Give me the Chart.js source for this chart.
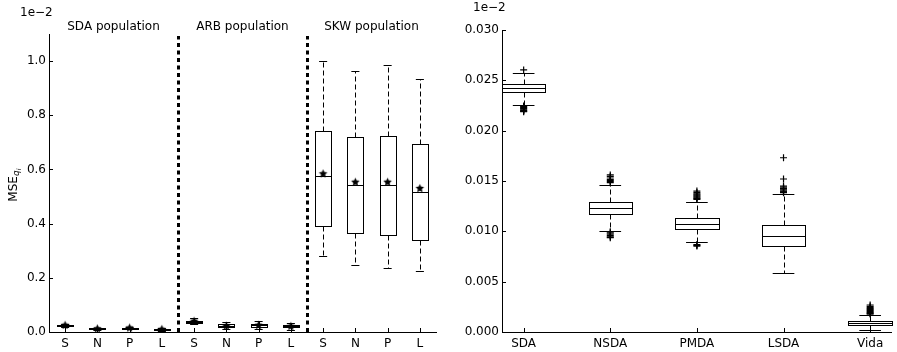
<!DOCTYPE html>
<html>
<head>
<meta charset="utf-8">
<script src="https://cdn.jsdelivr.net/npm/chart.js@4.4.0/dist/chart.umd.min.js"></script>
<style>
  html, body { margin: 0; padding: 0; background: #fff; }
  #wrap { position: relative; width: 897px; height: 352px; }
  #leftChart { position: absolute; left: 0; top: 0; }
  #rightChart { position: absolute; left: 448px; top: 0; }
</style>
</head>
<body>
<div id="wrap">
  <canvas id="leftChart" width="448" height="352"></canvas>
  <canvas id="rightChart" width="449" height="352"></canvas>
</div>
<script>
// left panel, values in units of 1e-2
const leftLabels = ['S', 'N', 'P', 'L', 'S', 'N', 'P', 'L', 'S', 'N', 'P', 'L'];
const populations = ['SDA population', 'ARB population', 'SKW population'];
const leftWhiskerLow = [0.018, 0.008, 0.010, 0.005, 0.028, 0.010, 0.010, 0.008, 0.279, 0.247, 0.236, 0.226];
const leftQ1 = [0.021, 0.010, 0.012, 0.008, 0.033, 0.018, 0.020, 0.017, 0.390, 0.366, 0.359, 0.340];
const leftMedian = [0.024, 0.012, 0.014, 0.010, 0.037, 0.023, 0.025, 0.022, 0.577, 0.541, 0.541, 0.516];
const leftQ3 = [0.027, 0.014, 0.016, 0.012, 0.041, 0.028, 0.030, 0.027, 0.742, 0.720, 0.722, 0.693];
const leftWhiskerHigh = [0.030, 0.016, 0.020, 0.014, 0.050, 0.036, 0.040, 0.035, 1.000, 0.963, 0.984, 0.935];
const leftMean = [0.025, 0.012, 0.015, 0.010, 0.040, 0.022, 0.025, 0.021, 0.584, 0.553, 0.553, 0.530];
const leftTicks = [0, 0.2, 0.4, 0.6, 0.8, 1.0];

// right panel
const rightLabels = ['SDA', 'NSDA', 'PMDA', 'LSDA', 'Vida'];
const rightWhiskerLow = [0.02258, 0.01006, 0.00891, 0.00583, 0.00020];
const rightQ1 = [0.02381, 0.01175, 0.01020, 0.00857, 0.00070];
const rightMedian = [0.02424, 0.01232, 0.01073, 0.00954, 0.00092];
const rightQ3 = [0.02460, 0.01288, 0.01129, 0.01060, 0.00109];
const rightWhiskerHigh = [0.02576, 0.01460, 0.01294, 0.01368, 0.00172];
const rightFliers = [
  [0.02603, 0.02245, 0.02238, 0.02230, 0.02222, 0.02215, 0.02208, 0.02200, 0.02195, 0.02189],
  [0.01560, 0.01545, 0.01530, 0.01515, 0.01505, 0.01495, 0.01483, 0.00996, 0.00985, 0.00972, 0.00958, 0.00945, 0.00937],
  [0.01400, 0.01385, 0.01372, 0.01362, 0.01352, 0.01342, 0.01333, 0.01325, 0.01318, 0.00868, 0.00860, 0.00854],
  [0.01731, 0.01520, 0.01450, 0.01438, 0.01425, 0.01412, 0.01400, 0.01392, 0.01384],
  [0.00268, 0.00255, 0.00243, 0.00232, 0.00222, 0.00212, 0.00202, 0.00193, 0.00185, 0.00178]
];
const rightTicks = [0, 0.005, 0.010, 0.015, 0.020, 0.025, 0.030];

const FONT = '"DejaVu Sans", sans-serif';
Chart.defaults.font.family = FONT;
Chart.defaults.font.size = 12;
Chart.defaults.color = '#000';

function starImage(r) {
  const c = document.createElement('canvas');
  c.width = c.height = 2 * r + 2;
  const g = c.getContext('2d');
  g.translate(r + 1, r + 1);
  g.beginPath();
  for (let i = 0; i < 10; i++) {
    const rad = i % 2 ? r * 0.48 : r;
    const a = -Math.PI / 2 + i * Math.PI / 5;
    g.lineTo(rad * Math.cos(a), rad * Math.sin(a));
  }
  g.closePath();
  g.fillStyle = '#000';
  g.fill();
  return c;
}

function seg(ctx, x1, y1, x2, y2) {
  ctx.beginPath();
  ctx.moveTo(x1, y1);
  ctx.lineTo(x2, y2);
  ctx.stroke();
}

// box + whiskers, drawn from the stats arrays through the scales
const boxPlugin = {
  id: 'boxes',
  beforeDatasetsDraw(chart, args, o) {
    const { ctx } = chart;
    const x = chart.scales.x, y = chart.scales.y;
    ctx.save();
    ctx.strokeStyle = '#000';
    ctx.lineWidth = 1;
    o.q1.forEach((q1, i) => {
      const p = i + 1;
      const xc = Math.round(x.getPixelForValue(p)) + 0.5;
      const xl = Math.round(x.getPixelForValue(p - 0.25)) + 0.5;
      const xr = Math.round(x.getPixelForValue(p + 0.25)) + 0.5;
      const cl = x.getPixelForValue(p - 0.125), cr = x.getPixelForValue(p + 0.125);
      const py = v => Math.round(y.getPixelForValue(v)) + 0.5;
      const y1 = py(q1), y3 = py(o.q3[i]), ym = py(o.median[i]);
      const ylo = py(o.low[i]), yhi = py(o.high[i]);
      ctx.setLineDash([5, 3]);
      seg(ctx, xc, y3, xc, yhi);
      seg(ctx, xc, y1, xc, ylo);
      ctx.setLineDash([]);
      seg(ctx, cl, yhi, cr, yhi);
      seg(ctx, cl, ylo, cr, ylo);
      ctx.strokeRect(xl, y3, xr - xl, y1 - y3);
      seg(ctx, xl, ym, xr, ym);
    });
    ctx.restore();
  }
};

// inward ticks and extra texts
const decoPlugin = {
  id: 'deco',
  afterDraw(chart, args, o) {
    const { ctx, chartArea } = chart;
    const x = chart.scales.x, y = chart.scales.y;
    ctx.save();
    ctx.strokeStyle = '#000';
    ctx.lineWidth = 1;
    x.ticks.forEach(t => {
      const px = Math.round(x.getPixelForValue(t.value)) + 0.5;
      seg(ctx, px, chartArea.bottom, px, chartArea.bottom - 4);
    });
    y.ticks.forEach(t => {
      const py = Math.round(y.getPixelForValue(t.value)) + 0.5;
      seg(ctx, chartArea.left, py, chartArea.left + 4, py);
    });
    if (o.separators) {
      ctx.lineWidth = 3;
      ctx.setLineDash([4, 3.5]);
      o.separators.forEach(v => {
        const px = Math.round(x.getPixelForValue(v)) + 0.5;
        seg(ctx, px, chartArea.bottom, px, chartArea.top + 2);
      });
      ctx.setLineDash([]);
    }
    ctx.fillStyle = '#000';
    ctx.font = '12px ' + FONT;
    ctx.textBaseline = 'middle';
    ctx.textAlign = 'left';
    ctx.fillText('1e\u22122', o.expX, o.expY);
    if (o.groups) {
      ctx.textAlign = 'center';
      o.groups.forEach((g, i) => {
        const a = x.getPixelForValue(i * 4 + 1), b = x.getPixelForValue(i * 4 + 4);
        ctx.fillText(g, (a + b) / 2, 27);
      });
    }
    if (o.yTitle) {
      ctx.translate(12, 184);
      ctx.rotate(-Math.PI / 2);
      ctx.textAlign = 'left';
      ctx.textBaseline = 'alphabetic';
      ctx.font = '12px ' + FONT;
      const w = ctx.measureText('MSE').width;
      ctx.font = 'italic 9px ' + FONT;
      const sw = ctx.measureText('q').width;
      const total = w + sw + 4;
      ctx.font = '12px ' + FONT;
      ctx.fillText('MSE', -total / 2, 5);
      ctx.font = 'italic 9px ' + FONT;
      ctx.fillText('q', -total / 2 + w, 7);
      ctx.font = 'italic 6px ' + FONT;
      ctx.fillText('i', -total / 2 + w + sw, 9);
    }
    ctx.restore();
  }
};

function axes(labels, yMin, yMax, yTicks, yDigits, xMin, xMax, yWidth) {
  return {
    x: {
      type: 'linear', min: xMin, max: xMax,
      grid: { display: false, drawTicks: false },
      border: { display: true, color: '#000', width: 1 },
      afterBuildTicks: s => { s.ticks = labels.map((l, i) => ({ value: i + 1 })); },
      afterFit: s => { s.height = 20; },
      ticks: { padding: 5, maxRotation: 0, autoSkip: false, callback: v => labels[Math.round(v) - 1] }
    },
    y: {
      min: yMin, max: yMax,
      grid: { display: false, drawTicks: false },
      border: { display: true, color: '#000', width: 1 },
      afterBuildTicks: s => { s.ticks = yTicks.map(v => ({ value: v })); },
      afterFit: s => { s.width = yWidth; },
      ticks: { padding: 3, callback: v => v.toFixed(yDigits) }
    }
  };
}

const star = starImage(4.5);

new Chart(document.getElementById('leftChart'), {
  type: 'scatter',
  data: {
    datasets: [{
      data: leftMean.map((v, i) => ({ x: i + 1, y: v })),
      pointStyle: star, pointRadius: 4.5, showLine: false
    }]
  },
  options: {
    responsive: false, animation: false,
    layout: { padding: { top: 34, right: 12, left: 0, bottom: 0 } },
    scales: axes(leftLabels, 0, 1.1, leftTicks, 1, 0.5, 12.5, 49),
    plugins: {
      legend: { display: false }, tooltip: { enabled: false },
      boxes: { low: leftWhiskerLow, q1: leftQ1, median: leftMedian, q3: leftQ3, high: leftWhiskerHigh },
      deco: { separators: [4.5, 8.5], groups: populations, expX: 20, expY: 13, yTitle: true }
    }
  },
  plugins: [boxPlugin, decoPlugin]
});

const flierPoints = [];
rightFliers.forEach((list, i) => list.forEach(v => flierPoints.push({ x: i + 1, y: v })));

new Chart(document.getElementById('rightChart'), {
  type: 'scatter',
  data: {
    datasets: [{
      data: flierPoints,
      pointStyle: 'cross', pointRadius: 3.5, borderWidth: 1.2,
      borderColor: '#000', backgroundColor: '#000', showLine: false
    }]
  },
  options: {
    responsive: false, animation: false,
    layout: { padding: { top: 30, right: 3, left: 0, bottom: 0 } },
    scales: axes(rightLabels, 0, 0.030, rightTicks, 3, 0.75, 5.25, 54),
    plugins: {
      legend: { display: false }, tooltip: { enabled: false },
      boxes: { low: rightWhiskerLow, q1: rightQ1, median: rightMedian, q3: rightQ3, high: rightWhiskerHigh },
      deco: { expX: 25, expY: 8 }
    }
  },
  plugins: [boxPlugin, decoPlugin]
});
</script>
</body>
</html>
